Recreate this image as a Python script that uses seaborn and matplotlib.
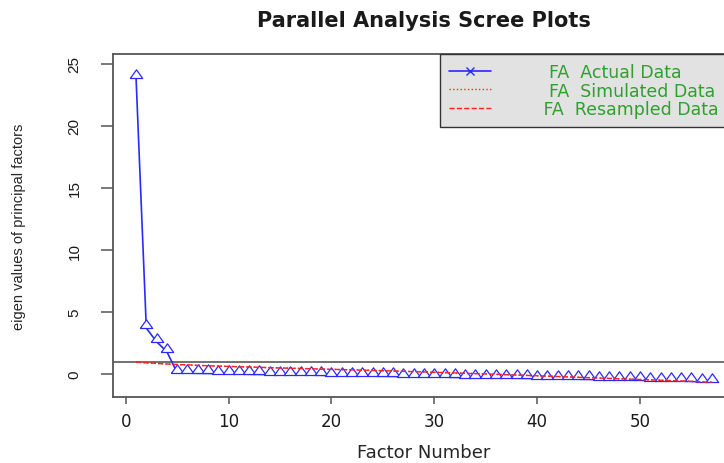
import matplotlib
matplotlib.use("Agg")
import matplotlib.pyplot as plt
from matplotlib.lines import Line2D
import seaborn as sns

# ---------------------------------------------------------------------------
# DATA (57 factors)
# ---------------------------------------------------------------------------
factors = list(range(1, 58))

fa_actual = [23.9, 3.7, 2.6, 1.8, 0.10, 0.08, 0.06, 0.05, 0.03, 0.01,
             0.00, -0.02, -0.03, -0.04, -0.06, -0.07, -0.08, -0.09, -0.10, -0.12,
             -0.13, -0.14, -0.15, -0.17, -0.18, -0.19, -0.20, -0.22, -0.23, -0.24,
             -0.25, -0.27, -0.28, -0.29, -0.30, -0.31, -0.33, -0.34, -0.35, -0.36,
             -0.38, -0.39, -0.40, -0.42, -0.43, -0.44, -0.46, -0.47, -0.49, -0.50,
             -0.52, -0.54, -0.55, -0.57, -0.59, -0.62, -0.65]

fa_simulated = [0.95, 0.90, 0.85, 0.81, 0.77, 0.73, 0.70, 0.67, 0.64, 0.61,
                0.59, 0.56, 0.54, 0.51, 0.49, 0.47, 0.45, 0.42, 0.40, 0.38,
                0.36, 0.34, 0.32, 0.30, 0.27, 0.25, 0.22, 0.20, 0.17, 0.14,
                0.12, 0.09, 0.06, 0.04, 0.01, -0.02, -0.05, -0.08, -0.11, -0.14,
                -0.17, -0.20, -0.23, -0.26, -0.29, -0.32, -0.35, -0.38, -0.41, -0.44,
                -0.47, -0.50, -0.53, -0.56, -0.59, -0.62, -0.65]

fa_resampled = [0.97, 0.91, 0.86, 0.81, 0.77, 0.74, 0.70, 0.67, 0.64, 0.62,
                0.59, 0.57, 0.54, 0.52, 0.49, 0.47, 0.45, 0.43, 0.40, 0.38,
                0.36, 0.34, 0.31, 0.29, 0.27, 0.24, 0.22, 0.19, 0.17, 0.14,
                0.11, 0.09, 0.06, 0.03, 0.01, -0.02, -0.05, -0.08, -0.11, -0.14,
                -0.17, -0.20, -0.23, -0.26, -0.29, -0.32, -0.35, -0.38, -0.41, -0.44,
                -0.47, -0.50, -0.53, -0.56, -0.59, -0.63, -0.66]

legend_labels = ["  FA  Actual Data", "  FA  Simulated Data", " FA  Resampled Data"]
x_ticks = [0, 10, 20, 30, 40, 50]
y_ticks = [0, 5, 10, 15, 20, 25]

# ---------------------------------------------------------------------------
# STYLE
# ---------------------------------------------------------------------------
sns.set_theme(style="white")
plt.rcParams["font.family"] = ["DejaVu Sans"]
plt.rcParams["text.color"] = "#1a1a1a"

BLUE = "#2a2aff"
RED = "#ff2020"
GREEN = "#2ea02e"
AXIS = "#555555"

# open triangle, anchored on its base (like R pch=2 after resampling)
tri = [(-1, 0), (1, 0), (0, 1.4), (-1, 0)]

fig = plt.figure(figsize=(7.24, 4.64), dpi=100)
# the plot box runs a little past the right edge, as in the reference
ax = fig.add_axes([113 / 724, 1 - 398 / 464, 622 / 724, 343 / 464])

# reference line at eigenvalue 1
ax.axhline(1, color="#666666", lw=1.3, zorder=1)

sns.lineplot(x=factors, y=fa_actual, ax=ax, color=BLUE, lw=1.2,
             marker=tri, markersize=12.5, markerfacecolor="white",
             markeredgecolor=BLUE, markeredgewidth=0.9, zorder=2)
sns.lineplot(x=factors, y=fa_simulated, ax=ax, color=RED, lw=1.0,
             linestyle=":", zorder=3)
sns.lineplot(x=factors, y=fa_resampled, ax=ax, color=RED, lw=1.0,
             linestyle="--", zorder=3)

ax.set_xlim(-1.24, 59.24)
ax.set_ylim(-1.85, 25.8)
ax.set_xticks(x_ticks)
ax.set_yticks(y_ticks)

for side in ["left", "bottom", "top", "right"]:
    ax.spines[side].set_color(AXIS)
    ax.spines[side].set_linewidth(1.3)

ax.tick_params(axis="x", length=5, width=1.1, color=AXIS, pad=6,
               labelsize=12, labelcolor="#1a1a1a", bottom=True)
ax.tick_params(axis="y", length=8.6, width=1.1, color=AXIS, pad=14,
               labelsize=11, labelcolor="#1a1a1a", left=True)
for lbl in ax.get_yticklabels():
    lbl.set_rotation(90)
    lbl.set_va("center")
    lbl.set_family(["Liberation Sans", "DejaVu Sans"])

ax.set_title("Parallel Analysis Scree Plots", fontsize=15,
             fontweight="bold", pad=20)
ax.set_xlabel("Factor Number", fontsize=13, labelpad=9)
ax.set_ylabel("eigen values of principal factors", fontsize=10.5,
              family=["Liberation Sans", "DejaVu Sans"])
ax.yaxis.set_label_coords(-0.14, 0.5)

handles = [
    Line2D([], [], color=BLUE, lw=1.2, marker="x", markersize=6),
    Line2D([], [], color=RED, lw=1.0, linestyle=":"),
    Line2D([], [], color=RED, lw=1.0, linestyle="--"),
]
leg = ax.legend(handles, legend_labels, loc="upper right",
                bbox_to_anchor=(0.987, 1.0), borderaxespad=0,
                fontsize=12.5, labelcolor=GREEN, handlelength=2.4,
                handletextpad=2.7, labelspacing=0.05, borderpad=0.5,
                fancybox=False, framealpha=1, facecolor="#e2e2e2",
                edgecolor="#333333")
leg.get_frame().set_linewidth(1.0)

fig.savefig("out.png", dpi=100)
